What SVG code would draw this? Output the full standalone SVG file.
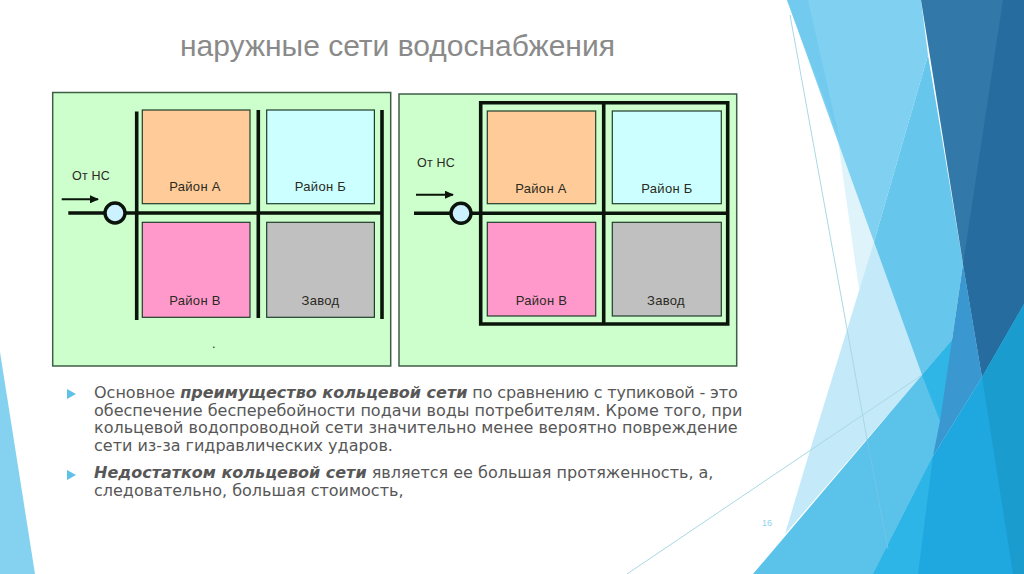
<svg xmlns="http://www.w3.org/2000/svg" width="1024" height="574" viewBox="0 0 1024 574">
<style>
.panel{fill:#ccffcc;stroke:#3f5f45;stroke-width:1.5}
.block{stroke:#1f3d2a;stroke-width:1.2}
.a{fill:#ffcc99}.b{fill:#ccffff}.c{fill:#ff99cc}.d{fill:#c0c0c0}
.pipe{fill:none;stroke:#0a140a;stroke-width:3.6}
.thin{fill:none;stroke:#0a140a;stroke-width:2}
.node{fill:#ccf2ff;stroke:#0a140a;stroke-width:3.4}
.lbl{font:13px "Liberation Sans",Arial,sans-serif;fill:#2a2a22;text-anchor:middle;letter-spacing:.3px}
.src{font-size:12.5px;letter-spacing:.2px}
.body{font:16px "DejaVu Sans",Verdana,sans-serif;fill:#575757}
.em{font-weight:bold;font-style:italic}
.title{font:30px "Liberation Sans",Arial,sans-serif;fill:#8a8a8a}
</style>
<defs><marker id="ah" markerWidth="9" markerHeight="8" refX="8" refY="4" orient="auto" markerUnits="userSpaceOnUse"><path d="M0 0L9 4L0 8Z" fill="#0a140a"/></marker></defs>
<rect width="1024" height="574" fill="#fff"/>
<g id="background">
<polygon points="0,352 35,574 0,574" fill="#85d2f0"/>
<polygon points="838,141 874,242 922,375 905,500 858,282" fill="#dff3fb"/>
<polygon points="874,242 922,375 785,534 811,447" fill="#c4e9f8"/>
<polygon points="787,0 921,0 928,55 874,242" fill="#80d1f1"/>
<polygon points="787,0 808,0 840,141" fill="#72cbee"/>
<polygon points="928,55 963,264 952,340 922,375 874,242" fill="#66c6ec"/>
<polygon points="921,0 1024,0 1024,304 982,377 963,264" fill="#3278a8"/>
<polygon points="1003,0 1024,0 1024,304 982,377 963,264" fill="#276c9f"/>
<polygon points="753,574 922,375 952,340 970,322 982,377 933,456 873,574" fill="#5bc2ea"/>
<polygon points="922,375 952,340 970,322 940,421" fill="#30b6e6"/>
<polygon points="963,264 982,377 933,456 940,421 952,340" fill="#3a97d0"/>
<polygon points="1024,304 982,377 933,456 873,574 1024,574" fill="#1fa8df"/>
<polygon points="933,456 918,574 873,574" fill="#2cb5e6"/>
<polygon points="1024,304 982,377 1013,574 1024,574" fill="#1b9ccf"/>
<path d="M790 15L867 439M627 574L922 375" fill="none" stroke="#a9d8e4" stroke-width="1"/>
<path d="M867 439L888 549" fill="none" stroke="#6fc6e6" stroke-width="1"/>
</g>
<text x="180" y="56" class="title">наружные сети водоснабжения</text>
<g id="panel-left">
<rect class="panel" x="52.7" y="92.5" width="338" height="273.5"/>
<rect class="block a" x="142.3" y="110" width="107.7" height="93.7"/>
<rect class="block b" x="266.7" y="110" width="107.7" height="93.7"/>
<rect class="block c" x="142.3" y="222.3" width="107.7" height="95"/>
<rect class="block d" x="266.7" y="222.3" width="107.7" height="95"/>
<text class="lbl" x="195" y="191">Район А</text>
<text class="lbl" x="320.5" y="191">Район Б</text>
<text class="lbl" x="195" y="305">Район В</text>
<text class="lbl" x="320.5" y="305">Завод</text>
<text class="lbl src" x="91" y="180">От НС</text>
<text class="lbl" x="214" y="348">.</text>
</g>
<g id="panel-right">
<rect class="panel" x="399" y="94" width="337.7" height="272"/>
<rect class="block a" x="487.3" y="111" width="108.4" height="92.7"/>
<rect class="block b" x="612.3" y="111" width="109" height="92.7"/>
<rect class="block c" x="487.3" y="222.3" width="108.4" height="93.7"/>
<rect class="block d" x="612.3" y="222.3" width="109" height="93.7"/>
<text class="lbl" x="541" y="192.5">Район А</text>
<text class="lbl" x="667" y="192.5">Район Б</text>
<text class="lbl" x="541.5" y="305">Район В</text>
<text class="lbl" x="666" y="305">Завод</text>
<text class="lbl src" x="436" y="167">От НС</text>
</g>
<g id="connectors">
<path class="pipe" d="M136.7 111.5V320M258.3 110V318M382 110V319M68.3 213H382"/>
<path class="thin" d="M61.7 199.3H98" marker-end="url(#ah)"/>
<path class="pipe" d="M480.7 102.7H727.7V324H480.7ZM603.7 102.7V325M414 213.3H727.7"/>
<path class="thin" d="M416 194.7H453" marker-end="url(#ah)"/>
</g>
<g id="node-left"><circle class="node" cx="115" cy="213" r="10"/></g>
<g id="node-right"><circle class="node" cx="461" cy="213.3" r="10"/></g>
<g id="bullets">
<polygon points="67,389 76,394 67,399" fill="#5fc0e8"/>
<polygon points="67,470 76,475 67,480" fill="#5fc0e8"/>
<text class="body" x="94" y="398">Основное <tspan class="em">преимущество кольцевой сети</tspan><tspan letter-spacing="-.15"> по сравнению с тупиковой - это</tspan></text>
<text class="body" x="94" y="416">обеспечение бесперебойности подачи воды потребителям. Кроме того, при</text>
<text class="body" x="94" y="433">кольцевой водопроводной сети значительно менее вероятно повреждение</text>
<text class="body" x="94" y="451">сети из-за гидравлических ударов.</text>
<text class="body" x="94" y="478"><tspan class="em">Недостатком кольцевой сети</tspan> является ее большая протяженность, а,</text>
<text class="body" x="94" y="496">следовательно, большая стоимость,</text>
</g>
<text x="767" y="526" font-family="Liberation Sans,sans-serif" font-size="9" fill="#8fd3ec" text-anchor="middle">16</text>
</svg>
